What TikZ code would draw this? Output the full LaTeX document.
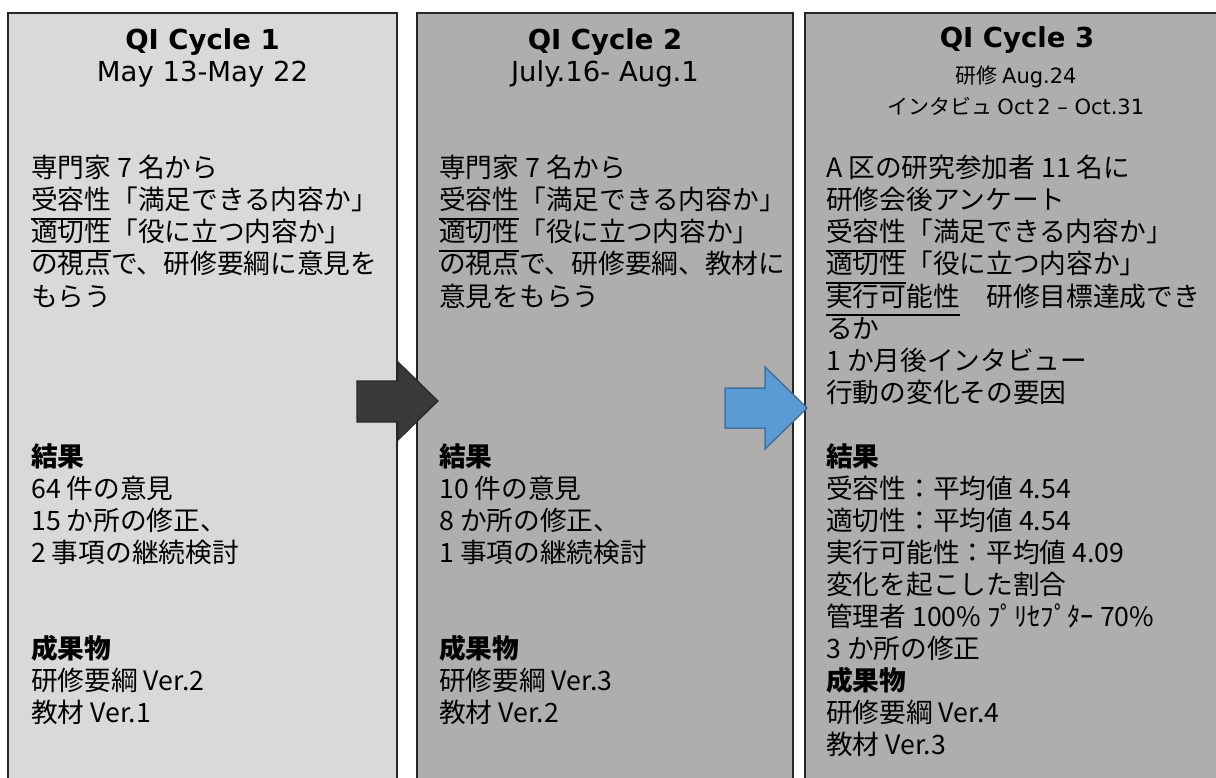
\documentclass[tikz,border=0pt]{standalone}
\usepackage{fontspec}
\setmainfont{Noto Sans CJK JP}
\newfontfamily\lat{DejaVu Sans}
\definecolor{boxA}{HTML}{D9D9D9}
\definecolor{boxB}{HTML}{AFAEAD}
\definecolor{edge}{HTML}{262626}
\definecolor{darkarrow}{HTML}{3B3838}
\definecolor{darkedge}{HTML}{2A2727}
\definecolor{bluearrow}{HTML}{5B9BD5}
\definecolor{blueedge}{HTML}{41719C}
\newcommand\ul[1]{\setbox0\hbox{#1}\rlap{\rule[-10.2pt]{\wd0}{1.8pt}}\box0}
\newcommand\blk[4]{\foreach \t [count=\i] in {#4}{\node[bodytxt] (#1\i) at (#2,{#3+(\i-1)*32}) {\t};}}
\tikzset{
  panel/.style={draw=edge, line width=2.8pt},
  bodytxt/.style={anchor=base west, inner sep=0pt, font=\fontsize{26.7}{32}\selectfont},
  titletxt/.style={anchor=base, inner sep=0pt, font=\lat\bfseries\fontsize{27.5}{32}\selectfont},
  datetxt/.style={anchor=base, inner sep=0pt, font=\lat\fontsize{27.5}{32}\selectfont},
  subtxt/.style={anchor=base, inner sep=0pt, font=\fontsize{21}{26}\selectfont},
  darkblock/.style={fill=darkarrow, draw=darkedge, line width=1.2pt, line join=miter},
  blueblock/.style={fill=bluearrow, draw=blueedge, line width=1.5pt, line join=miter}
}
\begin{document}
\begin{tikzpicture}[x=1pt,y=-1pt]
\useasboundingbox (0,0) rectangle (1216,778);
\clip (0,0) rectangle (1216,778);
\fill[white] (0,0) rectangle (1216,778);
% panels
\filldraw[panel, fill=boxA] (8,13) rectangle (397,800);
\filldraw[panel, fill=boxB] (417,13) rectangle (793,800);
\filldraw[panel, fill=boxB] (805,13) rectangle (1240,800);
% panel 1
\node[titletxt] (t1) at (202.5,50) {QI Cycle 1};
\node[datetxt] (d1) at (202.5,82) {May 13-May 22};
\blk{a}{31}{178}{{専門家 7 名から},{\ul{受容性}「満足できる内容か」},{\ul{適切性}「役に立つ内容か」},{の視点で、研修要綱に意見を},{もらう}}
\blk{ar}{31}{466}{{\bfseries 結果},{64 件の意見},{15 か所の修正、},{2 事項の継続検討}}
\blk{ap}{31}{658}{{\bfseries 成果物},{研修要綱 Ver.2},{教材 Ver.1}}
% panel 2
\node[titletxt] (t2) at (605,50) {QI Cycle 2};
\node[datetxt] (d2) at (605,82) {July.16- Aug.1};
\blk{b}{439}{178}{{専門家 7 名から},{\ul{受容性}「満足できる内容か」},{\ul{適切性}「役に立つ内容か」},{の視点で、研修要綱、教材に},{意見をもらう}}
\blk{br}{439}{466}{{\bfseries 結果},{10 件の意見},{8 か所の修正、},{1 事項の継続検討}}
\blk{bp}{439}{658}{{\bfseries 成果物},{研修要綱 Ver.3},{教材 Ver.2}}
% panel 3
\node[titletxt] (t3) at (1017,48) {QI Cycle 3};
\node[subtxt] (s3a) at (1016,84) {研修 {\lat Aug.24}};
\node[subtxt] (s3b) at (1016,115) {インタビュ {\lat Oct\,2 – Oct.31}};
\blk{c}{826}{178}{{A 区の研究参加者 11 名に},{研修会後アンケート},{\ul{受容性}「満足できる内容か」},{\ul{適切性}「役に立つ内容か」},{\ul{実行可能性}　研修目標達成でき},{るか},{1 か月後インタビュー},{行動の変化その要因}}
\blk{cr}{826}{466}{{\bfseries 結果},{受容性：平均値 4.54},{適切性：平均値 4.54},{実行可能性：平均値 4.09},{変化を起こした割合},{管理者 100\% ﾌﾟﾘｾﾌﾟﾀｰ 70\%},{3 か所の修正},{\bfseries 成果物},{研修要綱 Ver.4},{教材 Ver.3}}
% block arrows
\draw[darkblock] (357,381) -- (398,381) -- (398,362) -- (438,401) -- (398,440) -- (398,422) -- (357,422) -- cycle;
\draw[blueblock] (725,388) -- (765,388) -- (765,367) -- (807,408) -- (765,449) -- (765,428) -- (725,428) -- cycle;
\end{tikzpicture}
\end{document}
